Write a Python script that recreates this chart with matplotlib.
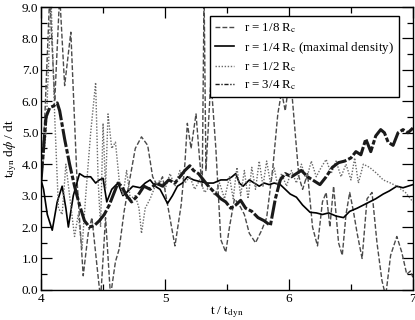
import numpy as np
import matplotlib
matplotlib.use("Agg")
import matplotlib.pyplot as plt
from matplotlib.ticker import MultipleLocator, FormatStrFormatter

plt.rcParams['font.family'] = ['Liberation Serif', 'DejaVu Serif']
plt.rcParams['mathtext.fontset'] = 'stix'

# ───────────────────────────────────────────────
# Data
# ───────────────────────────────────────────────
labels = [r'r = 1/8 R$_{\rm c}$',
          r'r = 1/4 R$_{\rm c}$ (maximal density)',
          r'r = 1/2 R$_{\rm c}$',
          r'r = 3/4 R$_{\rm c}$']

# r = 1/8 Rc (dashed)
t_r8 = [4.00, 4.03, 4.07, 4.11, 4.15, 4.19, 4.24, 4.29, 4.34, 4.38, 4.41, 4.45, 4.48,
        4.52, 4.56, 4.60, 4.63, 4.67, 4.71, 4.76, 4.81, 4.86, 4.90, 4.94, 4.98, 5.03,
        5.08, 5.13, 5.16, 5.18, 5.21, 5.25, 5.28, 5.30, 5.315, 5.33, 5.37, 5.41, 5.45,
        5.49, 5.52, 5.56, 5.60, 5.64, 5.68, 5.73, 5.78, 5.82, 5.87, 5.91, 5.94, 5.97,
        6.01, 6.05, 6.08, 6.11, 6.15, 6.19, 6.23, 6.27, 6.30, 6.33, 6.36, 6.40, 6.43,
        6.46, 6.49, 6.52, 6.55, 6.59, 6.63, 6.67, 6.71, 6.75, 6.78, 6.82, 6.87, 6.91,
        6.95, 6.98, 7.00]
v_r8 = [3.5, 5.5, 9.4, 6.0, 9.4, 6.5, 8.2, 3.5, 0.45, 1.8, 2.3, 0.8, -0.3,
        2.3, -0.2, 0.9, 1.3, 2.5, 3.4, 4.5, 4.87, 4.6, 3.6, 3.3, 3.6, 2.5,
        1.4, 2.7, 4.0, 5.3, 4.5, 5.6, 4.1, 3.3, 9.5, 3.8, 6.7, 4.5, 1.6,
        1.2, 2.0, 2.9, 2.7, 2.4, 1.8, 1.5, 1.9, 2.3, 3.9, 5.6, 6.3, 5.7,
        6.9, 5.0, 3.6, 3.2, 3.7, 2.0, 1.4, 2.8, 3.1, 2.0, 3.3, 1.5, 1.1,
        2.4, 3.1, 2.5, 1.8, 1.0, 2.9, 3.1, 1.5, 0.3, -0.2, 1.1, 1.7, 1.2,
        0.5, 0.6, 0.4]

# r = 1/4 Rc (solid)
t_r4 = [4.00, 4.02, 4.05, 4.09, 4.13, 4.17, 4.20, 4.22, 4.26, 4.31, 4.35, 4.40, 4.44,
        4.47, 4.50, 4.53, 4.57, 4.62, 4.66, 4.69, 4.74, 4.80, 4.84, 4.88, 4.92, 4.96,
        5.00, 5.02, 5.06, 5.10, 5.14, 5.18, 5.23, 5.28, 5.34, 5.39, 5.45, 5.50, 5.54,
        5.57, 5.60, 5.63, 5.68, 5.72, 5.76, 5.80, 5.84, 5.88, 5.93, 5.97, 6.01, 6.06,
        6.11, 6.17, 6.22, 6.27, 6.32, 6.38, 6.44, 6.49, 6.55, 6.60, 6.65, 6.70, 6.76,
        6.81, 6.87, 6.92, 6.96, 7.00]
v_r4 = [3.5, 3.2, 2.4, 1.9, 2.8, 3.3, 2.6, 2.0, 3.0, 3.7, 3.6, 3.6, 3.4,
        3.5, 3.55, 2.8, 3.2, 3.4, 3.0, 3.1, 3.3, 3.25, 3.4, 3.5, 3.3, 3.2,
        2.9, 2.75, 3.0, 3.3, 3.4, 3.6, 3.5, 3.45, 3.4, 3.4, 3.5, 3.5, 3.6,
        3.7, 3.4, 3.3, 3.5, 3.4, 3.3, 3.4, 3.35, 3.4, 3.35, 3.2, 3.05, 2.95,
        2.7, 2.47, 2.45, 2.4, 2.45, 2.35, 2.3, 2.5, 2.6, 2.7, 2.8, 2.9, 3.05,
        3.15, 3.3, 3.25, 3.3, 3.35]

# r = 1/2 Rc (dotted)
t_r2 = [4.00, 4.04, 4.08, 4.11, 4.14, 4.17, 4.20, 4.23, 4.27, 4.30, 4.33, 4.36, 4.40,
        4.44, 4.46, 4.48, 4.50, 4.52, 4.54, 4.57, 4.60, 4.63, 4.66, 4.69, 4.72, 4.76,
        4.79, 4.81, 4.84, 4.88, 4.92, 4.96, 5.00, 5.04, 5.08, 5.12, 5.16, 5.20, 5.24,
        5.28, 5.32, 5.36, 5.40, 5.44, 5.48, 5.52, 5.55, 5.58, 5.61, 5.64, 5.67, 5.70,
        5.73, 5.76, 5.79, 5.82, 5.85, 5.88, 5.91, 5.94, 5.98, 6.02, 6.06, 6.10, 6.14,
        6.18, 6.22, 6.26, 6.30, 6.34, 6.38, 6.42, 6.46, 6.50, 6.53, 6.56, 6.60, 6.65,
        6.71, 6.76, 6.82, 6.87, 6.94, 7.00]
v_r2 = [3.4, 5.0, 9.3, 5.5, 2.6, 2.4, 4.0, 3.0, 1.7, 2.4, 1.3, 3.0, 5.0,
        6.6, 3.5, 2.0, 5.3, 3.2, 5.6, 4.5, 4.7, 3.5, 3.0, 3.8, 2.9, 3.0,
        2.6, 1.8, 2.6, 2.9, 3.3, 3.5, 3.2, 3.7, 3.3, 3.8, 3.4, 3.6, 3.2,
        3.5, 3.1, 3.3, 3.0, 3.4, 2.9, 3.6, 2.9, 3.9, 3.0, 3.8, 2.9, 3.9,
        3.2, 4.1, 3.3, 4.1, 3.4, 3.9, 3.3, 3.7, 3.3, 3.8, 3.4, 4.0, 3.5,
        4.1, 3.6, 3.9, 4.15, 3.7, 4.1, 3.6, 4.0, 3.5, 4.2, 3.4, 4.0, 3.9,
        3.7, 3.5, 3.4, 3.3, 3.1, 2.8]

# r = 3/4 Rc (dash-dot, thick noisy band)
t_r34 = [4.00, 4.02, 4.04, 4.07, 4.10, 4.13, 4.15, 4.19, 4.23, 4.27, 4.31, 4.35, 4.39,
         4.43, 4.47, 4.51, 4.55, 4.59, 4.62, 4.65, 4.69, 4.73, 4.78, 4.83, 4.88, 4.93,
         4.98, 5.03, 5.08, 5.12, 5.16, 5.20, 5.23, 5.27, 5.31, 5.35, 5.40, 5.45, 5.49,
         5.53, 5.57, 5.61, 5.65, 5.70, 5.75, 5.80, 5.85, 5.89, 5.93, 5.97, 6.02, 6.06,
         6.10, 6.15, 6.19, 6.25, 6.30, 6.35, 6.40, 6.45, 6.50, 6.54, 6.58, 6.62, 6.66,
         6.70, 6.74, 6.77, 6.80, 6.84, 6.88, 6.92, 6.96, 7.00]
v_r34 = [3.5, 4.5, 5.5, 5.8, 5.85, 5.95, 5.7, 4.8, 4.0, 3.3, 2.7, 2.2, 2.0,
         2.05, 2.2, 2.4, 2.7, 3.1, 3.4, 3.3, 3.0, 2.8, 3.0, 3.3, 3.2, 3.4,
         3.3, 3.5, 3.4, 3.6, 3.8, 3.95, 3.8, 3.7, 3.5, 3.3, 3.1, 2.9, 2.8,
         2.6, 2.7, 2.85, 2.6, 2.5, 2.3, 2.2, 2.05, 2.9, 3.5, 3.7, 3.6, 3.7,
         3.8, 3.6, 3.5, 3.35, 3.6, 3.9, 4.05, 4.1, 4.2, 4.4, 4.3, 4.8, 4.4,
         4.9, 5.1, 5.0, 4.7, 4.6, 5.0, 5.1, 5.0, 5.15]

# ───────────────────────────────────────────────
# Plot
# ───────────────────────────────────────────────
fig = plt.figure(figsize=(4.15, 3.2), dpi=100)
ax = fig.add_axes([0.099, 0.094, 0.896, 0.884])

ax.plot(t_r8, v_r8, color='#4a4a4a', lw=1.0, ls=(0, (3.5, 1.5)), label=labels[0])
ax.plot(t_r4, v_r4, color='black', lw=1.2, ls='-', label=labels[1])
ax.plot(t_r2, v_r2, color='#6a6a6a', lw=1.0, ls=(0, (1, 1.2)), label=labels[2])
ax.plot(t_r34, v_r34, color='#1a1a1a', lw=2.2, ls=(0, (6, 0.7, 1.5, 0.7)), label=labels[3])

ax.set_xlim(4, 7)
ax.set_ylim(0, 9)
ax.xaxis.set_major_locator(MultipleLocator(1))
ax.xaxis.set_minor_locator(MultipleLocator(0.5))
ax.yaxis.set_major_locator(MultipleLocator(1))
ax.yaxis.set_minor_locator(MultipleLocator(0.5))
ax.yaxis.set_major_formatter(FormatStrFormatter('%.1f'))
ax.tick_params(which='both', direction='in', top=True, right=True, labelsize=9.5)
ax.tick_params(which='major', length=8, width=0.9)
ax.tick_params(which='minor', length=4, width=0.9)
ax.tick_params(axis='x', pad=2)
ax.tick_params(axis='y', pad=2)
for s in ax.spines.values():
    s.set_linewidth(1.0)

ax.set_xlabel(r't / t$_{\rm dyn}$', fontsize=9.5, labelpad=0)
ax.set_ylabel(r't$_{\rm dyn}$ d$\phi$ / dt', fontsize=9.5, labelpad=2)

leg = ax.legend(loc='upper right', bbox_to_anchor=(0.962, 0.968), borderaxespad=0,
                fontsize=9.3, frameon=True, fancybox=False, edgecolor='black',
                framealpha=1, handlelength=1.4, handletextpad=0.8,
                labelspacing=0.35, borderpad=0.4)
leg.get_frame().set_linewidth(1.0)
leg.set_zorder(10)
# thin dash-dot handle for the band series, as in the reference legend
h = leg.get_lines()[3]
h.set_linewidth(1.0)
h.set_dashes((3, 1.2, 1, 1.2))

fig.savefig('out.png', dpi=100)
